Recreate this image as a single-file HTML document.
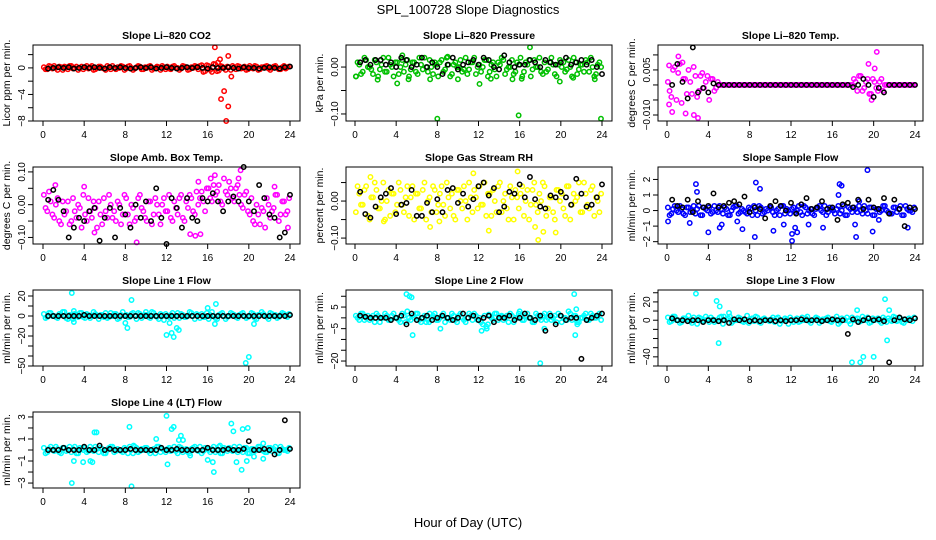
<!DOCTYPE html>
<html><head><meta charset="utf-8"><style>
html,body{margin:0;padding:0;background:#fff;}
svg{display:block;font-family:"Liberation Sans",Arial,sans-serif;}
</style></head><body>
<svg id="chart" width="936" height="540" viewBox="0 0 936 540">
<text x="468" y="14" text-anchor="middle" font-size="13">SPL_100728  Slope Diagnostics</text>
<text x="468" y="527" text-anchor="middle" font-size="13">Hour of Day (UTC)</text>
</svg>
<script>
const co2Band=[0.1,-0.2,0.2,0.3,-0.3,0.1,0.2,-0.2,0.3,0,-0.3,0.2,0.1,-0.1,0.3,-0.2,0.2,0,-0.3,0.1,0.3,-0.2,0,0.2,-0.1,0.3,-0.3,0.1,0.2,-0.2,0,0.3,-0.1,0.2,-0.3,0.1,0.2,-0.2,0.3,0,-0.1,0.2,-0.3,0.1,0.3,-0.2,0.4,-0.5,0.3,-0.6,0.5,-0.4,0.2,-0.3,0.1,0.3,-0.2,0.2,0,-0.3,0.3,-0.1,0.2,-0.2,0.1,0.3,-0.3,0.2,0,-0.2,0.3,0.1];
const co2Band2=[-0.2,0.3,-0.1,0,0.2,-0.3,0.1,0.3,-0.1,0.2,0,-0.2,0.3,0.1,-0.3,0,0.2,-0.1,0.3,-0.2,0,0.1,0.3,-0.3,0.2,0,-0.1,0.3,-0.2,0.1,0.2,-0.3,0,0.1,0.3,-0.2,-0.1,0.2,0,-0.3,0.3,0.1,-0.2,0,0.2,0.3,-0.6,0.4,-0.3,0.6,-0.5,0.3,0,0.2,-0.3,0.1,0.3,-0.1,0.2,-0.2,0,0.3,-0.3,0.1,0.2,-0.1,0,0.3,-0.2,0.1,-0.1,0.2];
const co2OutX=[16.7,17.2,17.8,17.3,17.6,18.0,18.3,17.0,18.0];
const co2OutY=[3.1,1.3,-8,-4.7,-3.5,-5.8,-1.3,0.8,1.8];
const co2Black=[-0.1,0,0.1,0,0.1,-0.1,0,0.1,0,0.1,0,-0.1,0.1,0,0.1,0,-0.1,0,0.1,0,0.1,-0.1,0,0.1,0,-0.1,0,0.1,0,0.1,0,-0.1,0.1,0,0,0.1,0,-0.1,0.1,0,0,-0.1,0,0.1,0,-0.1,0.1,0.2];

const presBand1=[-0.02,0.005,-0.01,0.015,0,-0.015,0.01,-0.005,0.02,-0.01,0.005,-0.02,0.01,0,-0.01,0.015,-0.005,0.01,-0.015,0.005,0.02,-0.01,0,0.01,-0.02,0.015,-0.005,0.005,-0.015,0.01,0,-0.01,0.02,-0.005,0.01,-0.015,0.005,0,0.015,-0.01,0.01,-0.02,0.005,0.015,-0.005,0,-0.015,0.01,0.02,-0.01,0.005,-0.02,0.015,0,-0.01,0.01,-0.005,0.02,-0.015,0.005,0,-0.01,0.015,-0.02,0.01,-0.005,0.005,0.015,-0.01,0,-0.015,0.01];
const presBand2=[0.01,-0.015,0.02,0,-0.005,0.015,-0.02,0.005,-0.01,0.02,0,0.01,-0.015,0.015,0.005,-0.02,0.01,-0.01,0.02,-0.005,0,0.015,-0.015,0.005,0.01,-0.01,0.02,-0.02,0.005,0,0.015,-0.005,-0.015,0.01,0.02,0,-0.01,0.015,-0.02,0.005,-0.005,0.01,0.02,-0.015,0,0.015,-0.01,0.005,-0.02,0.01,0.015,-0.005,0,0.02,-0.015,-0.01,0.01,0.005,-0.02,0.015,0.01,-0.005,0,0.02,-0.015,0.005,-0.01,0.01,0.02,-0.02,0.005,0];
const presOutX=[8,15.9,23.9,17,4.1,12.1,2.2,5.2,7.3,10,13.2,15.3,16.2,19.9,21.2,23.3,0.1,9,4.6];
const presOutY=[-0.11,-0.103,-0.11,0.042,-0.035,-0.036,-0.027,-0.026,-0.026,-0.026,-0.025,-0.026,-0.025,-0.031,-0.023,-0.026,-0.02,0.022,0.025];
const presBlack=[0.01,0.015,0.005,0.015,0.015,0.005,0.01,0,0.02,0.015,0,0.005,0.02,0,0.01,0,-0.015,0.005,0.02,-0.005,0.005,0.01,0.015,0.005,0.02,0.015,0,-0.005,0.025,0.01,0,0.005,0.005,0.015,0.01,0,0.015,0.01,0.005,0.01,0.02,0.005,0.01,0.015,0.005,0.015,0,-0.015];

const tempBand1=[0.001,-0.004,0.006,0.004,-0.006,0.002,0.005,-0.003,0.003,-0.002,0.004,0.001,-0.005,0.002,-0.001,0,0,0,0,0,0,0,0,0,0,0,0,0,0,0,0,0,0,0,0,0,0,0,0,0,0,0,0,0,0,0,0,0,0,0,0,0,0,0,0.002,-0.002,0.003,-0.001,0.002,-0.003,0.001,-0.002,0.002,0,0,0,0,0,0,0,0,0];
const tempBand2=[-0.002,0.005,-0.005,0.007,0.002,-0.003,0.001,0.006,-0.004,0.003,-0.001,0.003,0.002,-0.002,0.001,0,0,0,0,0,0,0,0,0,0,0,0,0,0,0,0,0,0,0,0,0,0,0,0,0,0,0,0,0,0,0,0,0,0,0,0,0,0,0,0.001,0.003,-0.002,0.001,-0.003,0.002,-0.001,0.001,-0.002,0,0,0,0,0,0,0,0,0];
const tempOutX=[0.2,0.5,0.2,1.8,2.6,3.0,20.3,19.5,20.1,19.8,1.1,1.5];
const tempOutY=[0.0065,-0.009,-0.0065,-0.0095,-0.01,-0.011,0.011,0.007,0.0055,-0.005,0.0095,0.0075];
const tempBlack=[0,0.007,0.001,-0.0045,0.0125,-0.0025,-0.001,-0.0025,0.0005,0,0,0,0,0,0,0,0,0,0,0,0,0,0,0,0,0,0,0,0,0,0,0,0,0,0,-0.0007,0,0.002,0,-0.004,-0.001,-0.0025,0,0,0,0,0,0];

const ambBand1=[0.03,-0.02,0.01,-0.04,0.02,-0.06,-0.03,0.01,-0.05,-0.02,0,-0.07,-0.03,0.02,-0.04,-0.01,0.01,-0.06,-0.02,0.03,-0.04,-0.05,0,-0.03,0.02,-0.06,-0.01,-0.04,0.03,-0.02,-0.05,0.01,-0.03,0,-0.06,0.02,-0.02,-0.04,0.01,-0.03,0.03,-0.05,-0.01,0.02,-0.03,0,0.04,-0.02,0.05,0.01,0.03,0.06,0,0.04,0.07,0.02,0.05,0.03,-0.01,0.04,-0.03,-0.05,0,-0.06,-0.02,0.02,-0.04,-0.01,0.03,-0.03,0.01,-0.02];
const ambBand2=[-0.01,0.04,-0.03,0,-0.05,0.01,-0.02,-0.06,0.02,-0.04,-0.01,0.03,-0.05,-0.02,0.01,-0.07,-0.03,0.02,-0.04,0,-0.02,0.01,-0.06,0.03,-0.03,0,-0.05,0.02,-0.01,-0.04,0.01,-0.06,0.02,-0.03,0,-0.02,0.03,-0.05,-0.01,0.02,-0.04,0.01,0.03,-0.02,0.04,0.02,0.01,0.05,0.02,0.06,0.04,0.01,0.08,0.03,0.05,0.01,0.06,0,0.03,-0.02,0.02,-0.06,-0.03,-0.01,-0.07,0,-0.02,0.03,-0.05,0.01,-0.03,0.02];
const ambOutX=[9.1,14.3,14.8,15.3,16.3,16.7,19.2,19.0,1.2,4,5,15.1,22.5,23.8];
const ambOutY=[-0.115,-0.09,-0.095,-0.09,0.08,0.09,0.105,0.08,0.06,0.055,-0.085,0.07,0.055,-0.07];
const ambBlack=[0.015,0.045,0.015,-0.02,-0.1,-0.07,-0.04,-0.05,-0.02,-0.01,-0.11,-0.04,-0.01,-0.1,-0.01,-0.03,-0.07,0,-0.04,0.01,-0.05,0.05,-0.04,-0.12,0.02,-0.01,-0.07,0.02,-0.04,-0.05,0.02,0.01,0.035,0.01,-0.02,0.01,0.025,0.01,0.115,0.01,-0.02,0.06,0.02,-0.03,-0.04,-0.1,-0.085,0.03];

const rhBand1=[-0.03,0.02,-0.01,0.04,-0.05,0.01,0.03,-0.02,0.05,0,-0.04,0.02,-0.01,0.03,-0.03,0.04,0.01,-0.05,0.02,-0.02,0.05,0,-0.03,0.03,-0.01,0.04,-0.04,0.01,0.02,-0.05,0.03,-0.02,0,0.05,-0.03,0.01,0.04,-0.01,-0.04,0.02,0.03,-0.03,0.05,0,-0.02,0.04,-0.05,0.01,0.02,-0.04,0.03,-0.01,0.05,-0.03,0,0.04,-0.02,0.01,-0.05,0.03,0.02,-0.04,0.04,-0.01,0,0.05,-0.03,0.02,-0.02,0.04,0.01,-0.03];
const rhBand2=[0.04,-0.01,0.03,-0.04,0.01,0.05,-0.02,0,-0.05,0.03,0.02,-0.03,0.05,-0.01,0.01,-0.04,0.04,0.02,-0.02,0.03,-0.05,0.01,0.04,-0.03,0.02,-0.01,0.05,-0.02,-0.04,0.03,0,0.04,-0.05,0.01,0.03,-0.02,-0.01,0.05,0.02,-0.04,0,0.04,-0.03,0.02,-0.05,0.01,0.03,-0.02,0.04,0,-0.05,0.03,-0.01,0.02,0.05,-0.04,0.01,-0.03,0.03,0,-0.02,0.04,-0.05,0.02,0.01,-0.03,0.05,-0.01,0.03,-0.04,0,0.02];
const rhOutX=[1.5,7.3,11.5,13,15.8,17.5,17.8,18.3,19.5,8.2,2.8];
const rhOutY=[0.065,-0.07,0.075,-0.08,0.08,-0.07,-0.105,-0.083,-0.085,-0.055,-0.055];
const rhBlack=[0.025,-0.035,-0.045,-0.015,0.01,0.02,0.035,-0.035,-0.01,-0.005,0.03,-0.04,-0.04,-0.005,-0.03,0.005,-0.03,0.03,0.035,-0.005,0.02,-0.015,0.005,0.04,0.05,0.015,0.035,-0.03,-0.015,0.025,0.02,0.045,0.01,0.065,0.005,-0.015,-0.02,0.015,0.01,0.025,0.01,-0.01,0.06,0.02,-0.015,-0.01,0.01,0.045];

const sfBand1=[0.2,-0.2,0.3,-0.1,0.1,-0.3,0.2,0,-0.2,0.3,-0.3,0.1,0.2,-0.1,0,0.3,-0.2,0.1,-0.3,0.2,0.3,-0.1,0,-0.2,0.1,0.3,-0.3,0.2,-0.1,0,0.2,-0.3,0.1,0.3,-0.2,0,0.1,-0.1,0.3,-0.3,0.2,0,-0.2,0.1,0.3,-0.1,-0.3,0.2,0,0.1,-0.2,0.3,-0.3,0.1,0.2,-0.1,0,0.3,-0.2,0.2,-0.3,0.1,0,0.3,-0.1,-0.2,0.2,0.1,-0.3,0.3,0,-0.1];
const sfBand2=[-0.3,0.1,0,0.3,-0.2,0.2,-0.1,0.3,0.1,-0.3,0.2,0,-0.2,0.3,-0.1,0.1,0.2,-0.3,0,0.3,-0.2,0.1,-0.1,0.2,-0.3,0,0.3,-0.2,0.1,0.2,-0.1,0,-0.3,0.3,0.1,-0.2,0.2,0,-0.1,0.3,-0.2,0.1,-0.3,0.2,0,0.3,-0.1,0.1,-0.2,0.3,0,-0.3,0.2,-0.1,0.1,0.3,-0.2,0,0.2,-0.3,0.1,-0.1,0.3,0,-0.2,0.2,-0.1,0.3,-0.3,0.1,0,0.2];
const sfOutX=[0.1,2.8,2.9,2.2,4,5.1,5.3,6.8,7.3,8.6,8.5,9.0,10.3,11.3,12.1,12.1,12.4,12.6,13.7,15.1,16.7,16.6,16.9,18.2,18.3,19.4,19.9,20.5,23.3,18.6];
const sfOutY=[-0.7,1.7,1.2,-0.8,-1.4,-1.1,-0.9,-0.7,-1.2,1.8,-1.7,1.4,-1.3,-0.9,-1.5,-1.95,-1.1,-1.4,-0.9,-1.1,1.7,1.0,1.6,-0.9,-1.7,2.6,-1.35,-0.6,-1.1,0.6];
const sfBlack=[0.7,0.3,0.2,0.7,-0.1,0.6,0.2,0.3,1.1,0.2,0.3,0.5,0.6,0.4,0.9,-0.1,0.2,0.1,-0.5,0.3,0.6,0.3,0,0.5,-0.2,0.4,0.8,0.1,0.2,0.6,0.1,0.2,-0.6,0.4,0.5,0.2,0.7,0.1,0.7,0.2,0.1,0.8,-0.2,0.7,0.1,-1.0,0.2,0.1];

const l1Band=[2,-1,3,0,-2,1,4,-3,0,2,-1,3,-2,1,0,2,-3,1,3,-1,0,2,-2,4,1,-1,3,-3,2,0,1,-2,3,-1,2,-4,0,1,-2,3,2,-1,0,3,-3,1,2,-1,0,4,-2,1,3,-3,0,2,-1,1,3,-2,0,2,-3,1,2,-1,3,0,-2,1,2,-1];
const l1Band2=[-2,3,0,-1,2,4,-2,1,-3,0,3,-1,2,-2,4,0,1,-1,-2,3,2,-3,1,0,-1,2,0,3,-2,1,-1,4,0,-3,1,2,-1,3,0,-2,1,-1,4,0,2,-2,-1,3,1,0,-3,2,0,-1,3,1,-2,2,0,-1,3,-2,1,4,0,-3,2,1,-1,3,0,2];
const l1OutX=[2.8,3,3,8.6,8.2,8,10,12,12.5,12.7,13.2,13,16,16.8,16.7,19.7,20,20.5,12.3,16.1];
const l1OutY=[23,5,-6,16,-12,-7,4,-19,-17,-21,-14,-12,8,12,-8,-47,-41,-8,-7,-3];
const l1Black=[0,0,0,0,0,0,0,1,0,0,0,0,0,0,0,0,0,0,0,0,0,0,0,0,0,0,0,0,0,0,0,0,0,0,0,0,0,0,0,0,0,0,0,0,0,0,0,1];

const l2Band=[1,-1,2,0,-1,1,2,-2,0,1,-1,2,0,-2,1,3,-1,0,2,-2,1,-1,0,2,-1,1,-2,0,2,-1,1,0,-2,2,-1,1,0,-3,-4,1,-1,2,0,-1,1,2,-2,0,1,-1,2,0,-2,1,-1,2,0,-1,1,2,-2,0,3,-1,1,-2,0,2,-1,1,0,2];
const l2Band2=[0,2,-1,1,0,-2,1,0,2,-1,1,0,-1,2,-2,0,1,2,-1,0,-2,2,1,-1,0,2,0,-1,1,-2,2,-1,0,1,2,-1,-2,1,-3,0,2,-1,1,0,-2,1,0,2,-1,1,0,-2,2,0,1,-1,2,0,-2,1,0,-1,2,1,-2,0,1,-1,2,0,1,-1];
const l2OutX=[5,5.3,5.5,5.6,7.2,8.3,12.3,12.8,13,14.3,18.4,18,21.3,21.5,21.4,21.6,16];
const l2OutY=[11,10,9.5,-8,-2,-5,-6,-5,1.5,0.5,-5,-21,11,4,-8,-3,3];
const l2Black=[1,0.5,0,0,0,0,-1,0,1,-3,2,-1,0,1,-1,0,1,0,-1,0,2,0,1,-1,0,1,-2,0,0,1,-1,0,2,0,-1,1,-6,1,-3,1,-1,0,0,-19,-1,0,1,2];

const l3Band=[3,-1,4,0,-2,2,5,-3,0,3,-1,4,-2,1,0,3,-4,1,4,-1,0,2,-2,5,1,-1,3,-3,2,0,1,-2,3,-1,2,-4,0,1,-2,3,2,-1,0,3,-3,1,2,-1,0,4,-2,1,3,-4,0,2,-1,1,3,-2,0,2,-3,1,2,-1,3,0,-2,1,2,-1];
const l3Band2=[-2,4,0,-3,2,1,-1,3,-4,2,0,1,3,-2,-1,4,0,2,-3,1,3,-1,0,-3,2,4,-2,1,0,-1,3,2,-4,0,1,3,-2,2,-1,0,4,-3,1,2,-1,0,3,-2,1,-4,2,0,-1,3,1,-2,4,0,-3,2,1,-1,3,-2,0,4,-1,2,-3,0,1,3];
const l3OutX=[2.8,4.8,5.1,5,6,5.5,17.9,18.7,19,20,21.1,21.3,21.5,18.4];
const l3OutY=[29,21,15,-25,8,4,-46,-46,-40,-40,23,-22,11,11];
const l3Black=[2,0,0,-1,0,0,-2,0,0,-1,0,-3,1,0,1,-1,0,-1,0,0,-1,0,-1,0,0,1,0,0,0,-1,0,1,0,0,-15,1,-2,0,2,0,1,-1,-46,0,3,1,0,2];

const l4Band=[0.2,-0.2,0.3,-0.1,0.1,-0.3,0.2,0,-0.2,0.3,-0.3,0.1,0.2,-0.1,0,0.3,-0.2,0.1,-0.3,0.2,0.3,-0.1,0,-0.2,0.1,0.3,-0.3,0.2,-0.1,0,0.2,-0.3,0.1,0.3,-0.2,0,0.1,-0.1,0.3,-0.3,0.2,0,-0.2,0.1,0.3,-0.1,-0.3,0.2,0,0.1,-0.2,0.3,-0.3,0.1,0.2,-0.1,0,0.3,-0.2,0.2,-0.3,0.1,0,0.3,-0.1,-0.2,0.2,0.1,-0.3,0.3,0,-0.1];
const l4Band2=[-0.3,0.1,0,0.3,-0.2,0.2,-0.1,0.3,0.1,-0.3,0.2,0,-0.2,0.3,-0.1,0.1,0.2,-0.3,0,0.3,-0.2,0.1,-0.1,0.2,-0.3,0,0.3,-0.2,0.1,0.2,-0.1,0,-0.3,0.3,0.1,-0.2,0.2,0,-0.1,0.3,-0.2,0.1,-0.3,0.2,0,0.3,-0.1,0.1,-0.2,0.3,0,-0.3,0.2,-0.1,0.1,0.3,-0.2,0,0.2,-0.3,0.1,-0.1,0.3,0,-0.2,0.2,-0.1,0.3,-0.3,0.1,0,0.2];
const l4OutX=[2.8,3,3.9,4.6,4.8,5,5.2,8.4,8.6,8.8,11,12,12.1,12.5,12.7,13.2,13.4,13.6,14.3,16,16.5,16.6,17.2,18.3,18.5,18.8,19.3,19.4,19.8,19.9,20.5,21.4,21.4];
const l4OutY=[-3,-1,-1.1,-1,-1.1,1.6,1.6,2.1,-3.3,0.4,1,3.1,-1.3,1.9,2.1,0.9,1.3,0.9,-0.5,-0.9,-1.1,-2,0.4,2.4,1.7,-1.1,-1.8,1.9,-1,2,-0.6,0.6,-0.8];
const l4Black=[0,0,0,0.2,0,0,0,0.3,0,0,0.4,0,0.1,0,0,0,0.1,0,0,0,0,0,0.2,0,0,0.1,0,0,0,0,0,0.2,0,0,0,0.1,0,0,0.1,0.8,0,0,0.1,0,-0.4,0,2.7,0.1];

const xTicks=[0,4,8,12,16,20,24];
const NS='http://www.w3.org/2000/svg';
const svg=document.getElementById('chart');
const cols=[{l:33,r:300,x0:43,x1:290},{l:346,r:612,x0:355,x1:602},{l:658,r:923,x0:667,x1:915}];
const rows=[{t:45,b:121},{t:167,b:244},{t:290,b:366},{t:412,b:488}];

function mk(tag,attrs,parent){const e=document.createElementNS(NS,tag);for(const k in attrs)e.setAttribute(k,attrs[k]);(parent||svg).appendChild(e);return e;}

const panels=[
 {id:'co2',c:0,r:0,title:'Slope Li\u2013820 CO2',ylab:'Licor ppm per min.',ymin:-8,ymax:3.45,ticks:[2,0,-2,-4,-6,-8],labels:[0,-4,-8],fmt:v=>String(v),color:'#ff0000',bands:[co2Band,co2Band2],ox:co2OutX,oy:co2OutY,black:co2Black},
 {id:'pressure',c:1,r:0,title:'Slope Li\u2013820 Pressure',ylab:'kPa per min.',ymin:-0.115,ymax:0.047,ticks:[0,-0.05,-0.1],labels:[0,-0.1],fmt:v=>v.toFixed(2),color:'#00c000',bands:[presBand1,presBand2],ox:presOutX,oy:presOutY,black:presBlack},
 {id:'li820-temp',c:2,r:0,title:'Slope Li\u2013820 Temp.',ylab:'degrees C per min.',ymin:-0.012,ymax:0.0133,ticks:[0.01,0.005,0,-0.005,-0.01],labels:[0.005,-0.01],fmt:v=>v.toFixed(3),color:'#ff00ff',bands:[tempBand1,tempBand2],ox:tempOutX,oy:tempOutY,black:tempBlack},
 {id:'amb-box-temp',c:0,r:1,title:'Slope Amb. Box Temp.',ylab:'degrees C per min.',ymin:-0.12,ymax:0.115,ticks:[0.1,0.05,0,-0.05,-0.1],labels:[0.1,0,-0.1],fmt:v=>v.toFixed(2),color:'#ff00ff',bands:[ambBand1,ambBand2],ox:ambOutX,oy:ambOutY,black:ambBlack},
 {id:'gas-stream-rh',c:1,r:1,title:'Slope Gas Stream RH',ylab:'percent per min.',ymin:-0.116,ymax:0.092,ticks:[0.05,0,-0.05,-0.1],labels:[0,-0.1],fmt:v=>v.toFixed(2),color:'#ffff00',bands:[rhBand1,rhBand2],ox:rhOutX,oy:rhOutY,black:rhBlack},
 {id:'sample-flow',c:2,r:1,title:'Slope Sample Flow',ylab:'ml/min per min.',ymin:-2.15,ymax:2.8,ticks:[2,1,0,-1,-2],labels:[2,1,0,-1,-2],fmt:v=>String(v),color:'#0000ff',bands:[sfBand1,sfBand2],ox:sfOutX,oy:sfOutY,black:sfBlack},
 {id:'line1-flow',c:0,r:2,title:'Slope Line 1 Flow',ylab:'ml/min per min.',ymin:-50,ymax:26,ticks:[20,10,0,-10,-20,-30,-40,-50],labels:[20,0,-20,-50],fmt:v=>String(v),color:'#00ffff',bands:[l1Band,l1Band2],ox:l1OutX,oy:l1OutY,black:l1Black},
 {id:'line2-flow',c:1,r:2,title:'Slope Line 2 Flow',ylab:'ml/min per min.',ymin:-22.3,ymax:12.9,ticks:[10,5,0,-5,-10,-15,-20],labels:[5,-5,-20],fmt:v=>String(v),color:'#00ffff',bands:[l2Band,l2Band2],ox:l2OutX,oy:l2OutY,black:l2Black},
 {id:'line3-flow',c:2,r:2,title:'Slope Line 3 Flow',ylab:'ml/min per min.',ymin:-50,ymax:33,ticks:[30,20,10,0,-10,-20,-30,-40,-50],labels:[20,0,-40],fmt:v=>String(v),color:'#00ffff',bands:[l3Band,l3Band2],ox:l3OutX,oy:l3OutY,black:l3Black},
 {id:'line4-flow',c:0,r:3,title:'Slope Line 4 (LT) Flow',ylab:'ml/min per min.',ymin:-3.45,ymax:3.45,ticks:[3,2,1,0,-1,-2,-3],labels:[3,1,-1,-3],fmt:v=>String(v),color:'#00ffff',bands:[l4Band,l4Band2],ox:l4OutX,oy:l4OutY,black:l4Black}
];

panels.forEach(p=>{
  const C=cols[p.c],R=rows[p.r];
  const X=h=>C.x0+(C.x1-C.x0)*h/24;
  const Y=v=>R.b-(v-p.ymin)/(p.ymax-p.ymin)*(R.b-R.t);
  const g=mk('g',{});
  
  
  const t=mk('text',{x:(C.l+C.r)/2,y:R.t-6,'text-anchor':'middle','font-size':10.5,'font-weight':'bold'},g);
  t.textContent=p.title;
  
  
  const yl=mk('text',{transform:`translate(${C.l-23},${(R.t+R.b)/2}) rotate(-90)`,'text-anchor':'middle','font-size':10.5},g);
  yl.textContent=p.ylab;
  
  
  const pts=mk('g',{fill:'none','stroke-width':1.5},g);
  
  
  p.bands.forEach((arr,bi)=>{
    arr.forEach((v,i)=>{
      const h=(i+0.5*bi+0.25)*24/arr.length;
      const c=mk('circle',{cx:X(h),cy:Y(v),r:2.2,stroke:p.color},pts);
      
      
    });
  });
  p.ox.forEach((h,i)=>{
    const c=mk('circle',{cx:X(h),cy:Y(p.oy[i]),r:2.2,stroke:p.color},pts);
    
    
  });
  p.black.forEach((v,i)=>{
    const h=0.5+i*23.5/(p.black.length-1);
    const c=mk('circle',{cx:X(h),cy:Y(v),r:2.2,stroke:'#000'},pts);
    
    
  });
  const box=mk('rect',{x:C.l,y:R.t,width:C.r-C.l,height:R.b-R.t,fill:'none',stroke:'#000','stroke-width':1},g);
  
  
  xTicks.forEach(h=>{
    mk('line',{x1:X(h),x2:X(h),y1:R.b,y2:R.b+5,stroke:'#000'},g);
    const tl=mk('text',{x:X(h),y:R.b+17,'text-anchor':'middle','font-size':10},g);
    tl.textContent=h;
    
    
  });
  p.ticks.forEach(v=>{
    mk('line',{x1:C.l,x2:C.l-5,y1:Y(v),y2:Y(v),stroke:'#000'},g);
  });
  p.labels.forEach(v=>{
    const tl=mk('text',{transform:`translate(${C.l-8},${Y(v)}) rotate(-90)`,'text-anchor':'middle','font-size':10},g);
    tl.textContent=p.fmt(v).replace('-','\u2212');
    
    
  });
});
</script>
</body></html>
